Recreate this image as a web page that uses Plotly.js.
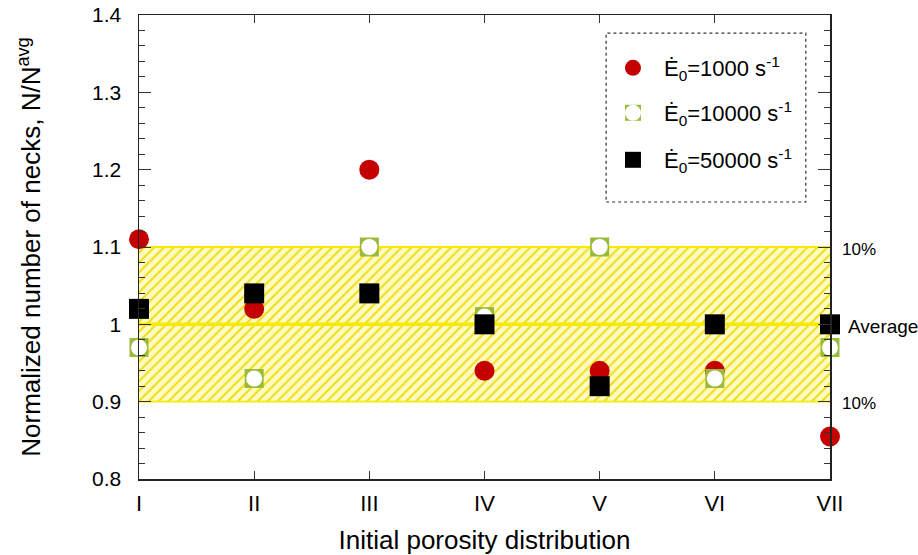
<!DOCTYPE html>
<html><head><meta charset="utf-8">
<script src="https://cdn.plot.ly/plotly-3.0.1.min.js"></script>
<style>html,body{margin:0;padding:0;background:#fff}#chart{width:918px;height:555px}</style>
</head><body><div id="chart"></div>
<script>
const categories = ['I','II','III','IV','V','VI','VII'];
const catIndex = [0,1,2,3,4,5,6];
const rate1000 = [1.11, 1.02, 1.20, 0.94, 0.94, 0.94, 0.855];
const rate10000 = [0.97, 0.93, 1.10, 1.01, 1.10, 0.93, 0.97];
const rate50000 = [1.02, 1.04, 1.04, 1.00, 0.92, 1.00, 1.00];
const bandX = [0, 6];
const bandLow = [0.9, 0.9];
const bandHigh = [1.1, 1.1];
const averageLine = [1, 1];
const seriesNames = ['Ė<sub>0</sub>=1000 s<sup>-1</sup>', 'Ė<sub>0</sub>=10000 s<sup>-1</sup>', 'Ė<sub>0</sub>=50000 s<sup>-1</sup>'];
const bandLabels = ['10%', 'Average', '10%'];

const FONT = 'Liberation Sans, Arial, sans-serif';
const RED = '#c40000', GREEN = '#9aba3a', YEL = '#f7e900';

const traces = [
  {x: bandX, y: bandLow, mode: 'lines', line: {color: YEL, width: 1.8}, showlegend: false, hoverinfo: 'skip'},
  {x: bandX, y: bandHigh, mode: 'lines', line: {color: YEL, width: 1.8}, fill: 'tonexty', fillcolor: '#fffcc2',
   fillpattern: {shape: '/', fgcolor: '#f0dd20', bgcolor: '#fffcc2', size: 7, solidity: 0.3},
   showlegend: false, hoverinfo: 'skip'},
  {x: bandX, y: averageLine, mode: 'lines', line: {color: YEL, width: 3.5}, showlegend: false, hoverinfo: 'skip'},
  {x: catIndex, y: rate1000, mode: 'markers', name: seriesNames[0], cliponaxis: false, legend: 'legend',
   marker: {symbol: 'circle', size: 20, color: RED}},
  {x: catIndex, y: rate10000, mode: 'markers', name: '\u200B', cliponaxis: false, legend: 'legend2',
   marker: {symbol: 'square', size: 19, color: GREEN}},
  {x: catIndex, y: rate10000, mode: 'markers', name: seriesNames[1], cliponaxis: false, legend: 'legend3',
   marker: {symbol: 'circle', size: 16, color: '#ffffff'}},
  {x: catIndex, y: rate50000, mode: 'markers', name: seriesNames[2], cliponaxis: false, legend: 'legend4',
   marker: {symbol: 'square', size: 20, color: '#000000'}}
];

const annotations = [1.1, 1.0, 0.9].map((v, i) => ({
  xref: 'paper', yref: 'y', x: 1, y: v, xanchor: 'left', yanchor: 'middle',
  xshift: i === 1 ? 16 : 10, yshift: -2,
  text: bandLabels[i], showarrow: false, font: {family: FONT, size: i === 1 ? 19 : 17, color: '#000'}
}));

function leg(yc) {
  return {
    x: 0.670, y: yc, xanchor: 'left', yanchor: 'middle',
    bgcolor: 'rgba(0,0,0,0)', borderwidth: 0, itemwidth: 52,
    font: {size: 22, family: FONT, color: '#000'}, itemsizing: 'trace', traceorder: 'normal'
  };
}

const layout = {
  width: 918, height: 555,
  margin: {l: 139, r: 88, t: 15, b: 76},
  paper_bgcolor: '#fff', plot_bgcolor: '#fff',
  font: {family: FONT, color: '#000'},
  showlegend: true,
  xaxis: {
    range: [0, 6], tickvals: catIndex, ticktext: categories,
    ticks: 'inside', ticklen: 8, tickwidth: 1, tickcolor: '#333',
    showline: true, linecolor: '#222', linewidth: 1.5, mirror: 'ticks',
    showgrid: false, zeroline: false, tickfont: {size: 22, family: FONT},
    ticklabelstandoff: 4,
    title: {text: 'Initial porosity distribution', font: {size: 26, family: FONT}, standoff: 18}
  },
  yaxis: {
    range: [0.8, 1.4], dtick: 0.1, tick0: 0.8,
    ticks: 'inside', ticklen: 12, tickwidth: 1, tickcolor: '#333',
    minor: {dtick: 0.02, ticks: 'inside', ticklen: 6, tickwidth: 1, tickcolor: '#333', showgrid: false},
    showline: true, linecolor: '#222', linewidth: 1.5, mirror: 'ticks',
    showgrid: false, zeroline: false, tickfont: {size: 21, family: FONT},
    ticklabelstandoff: 12,
    title: {text: 'Normalized number of necks, N/N<sup>avg</sup>', font: {size: 26, family: FONT}, standoff: 44}
  },
  legend: leg(0.8858),
  legend2: leg(0.7888),
  legend3: leg(0.7888),
  legend4: leg(0.6875),
  shapes: [{
    type: 'rect', xref: 'paper', yref: 'paper', x0: 0.676, x1: 0.965, y0: 0.597, y1: 0.961,
    line: {color: '#333', width: 1.2, dash: 'dot'}, fillcolor: '#fff', layer: 'below'
  }],
  annotations: annotations
};

Plotly.newPlot('chart', traces, layout, {displayModeBar: false, staticPlot: true});
</script></body></html>
